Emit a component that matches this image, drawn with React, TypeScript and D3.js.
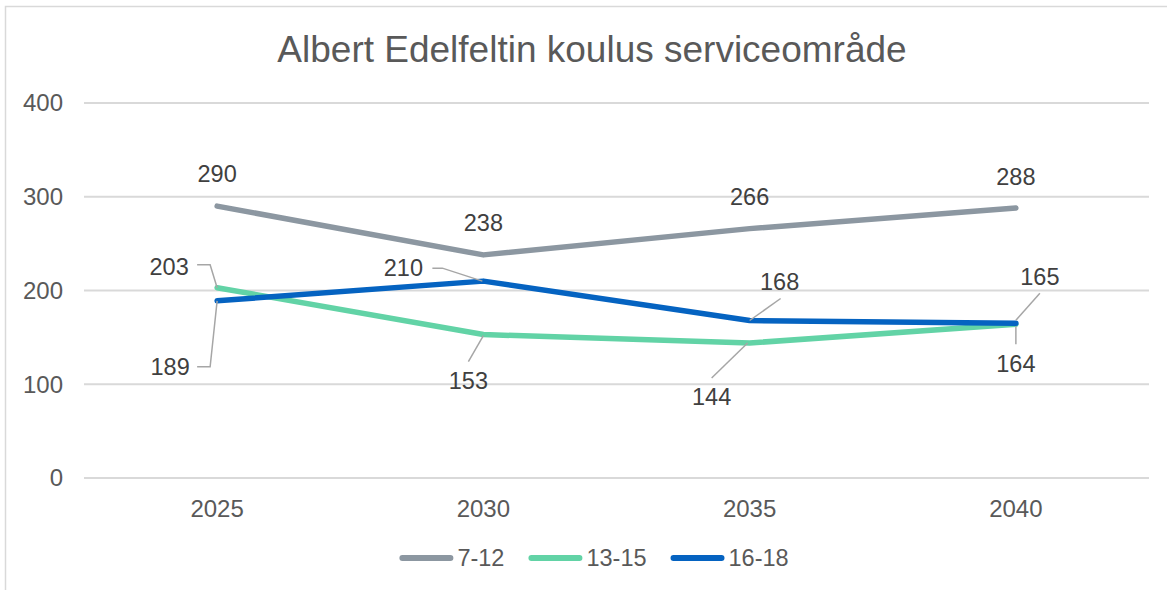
import React from "react";
import * as d3 from "d3";

const years = ["2025", "2030", "2035", "2040"];
const seriesNames = ["7-12", "13-15", "16-18"];
const values712 = [290, 238, 266, 288];
const values1315 = [203, 153, 144, 164];
const values1618 = [189, 210, 168, 165];
const yTicks = [0, 100, 200, 300, 400];

const colors = ["#8C97A1", "#62D3A6", "#0563C1"];

// label placement relative to the point: text centre offset + leader polyline
type Place = { dx: number; dy: number; leader?: [number, number][] };
const labelPlaces: Place[][] = [
  [
    { dx: 0, dy: -32 },
    { dx: 0, dy: -32 },
    { dx: 0, dy: -32 },
    { dx: 0, dy: -31 },
  ],
  [
    { dx: -48, dy: -21, leader: [[-20, -23], [-7, -23], [0, 0]] },
    { dx: -15, dy: 46, leader: [[-15, 27], [0, 1]] },
    { dx: -38, dy: 54, leader: [[-38, 35], [-2, 0]] },
    { dx: 0, dy: 40, leader: [[0, 20], [0, 2]] },
  ],
  [
    { dx: -47, dy: 66, leader: [[-20, 66], [-7, 66], [0, 0]] },
    { dx: -80, dy: -13, leader: [[-51, -13], [-41, -13], [-1, 0]] },
    { dx: 30, dy: -39, leader: [[31, -22], [0, 0]] },
    { dx: 24, dy: -47, leader: [[24, -30], [0, -3]] },
  ],
];

const W = 1167;
const H = 590;
const font = "'Liberation Sans', Arial, sans-serif";

const charW = (s: string) =>
  s.split("").reduce((a, c) => a + (c === "-" ? 0.333 : 0.556), 0);

export default function App() {
  const series = [values712, values1315, values1618];

  const x = d3.scalePoint<string>().domain(years).range([84, 1149]).padding(0.5);
  const y = d3.scaleLinear().domain([0, 400]).range([478, 103]);

  const line = d3
    .line<number>()
    .x((_, i) => x(years[i]) as number)
    .y((d) => y(d));

  // legend layout
  const legFont = 23.5;
  const lineLen = 54;
  const items = seriesNames.map((n) => lineLen + 4 + charW(n) * legFont);
  const gap = 24;
  const legTotal = d3.sum(items) + gap * (items.length - 1);
  let lx = 594 - legTotal / 2;
  const legendPos = items.map((w) => {
    const p = lx;
    lx += w + gap;
    return p;
  });

  return (
    <svg
      width={W}
      height={H}
      style={{ position: "absolute", left: 0, top: 0, background: "#fff" }}
      fontFamily={font}
    >
      <rect x={0} y={0} width={W} height={H} fill="#fff" />
      <rect x={5.5} y={6.5} width={1300} height={700} fill="none" stroke="#D9D9D9" strokeWidth={1.5} />

      <text x={592} y={62} textAnchor="middle" fontSize={37} fill="#595959">
        Albert Edelfeltin koulus serviceområde
      </text>

      {yTicks.map((t) => (
        <g key={t}>
          <line x1={84} x2={1149} y1={y(t)} y2={y(t)} stroke="#D9D9D9" strokeWidth={2} />
          <text x={63} y={y(t)} dy="0.35em" textAnchor="end" fontSize={24} fill="#595959">
            {t}
          </text>
        </g>
      ))}

      {years.map((yr) => (
        <text key={yr} x={x(yr)} y={517} textAnchor="middle" fontSize={24} fill="#595959">
          {yr}
        </text>
      ))}

      {series.map((vals, si) => (
        <path
          key={si}
          d={line(vals) ?? ""}
          fill="none"
          stroke={colors[si]}
          strokeWidth={5.5}
          strokeLinecap="round"
          strokeLinejoin="round"
        />
      ))}

      {series.map((vals, si) =>
        vals.map((v, i) => {
          const px = x(years[i]) as number;
          const py = y(v);
          const pl = labelPlaces[si][i];
          return (
            <g key={`${si}-${i}`}>
              {pl.leader && (
                <polyline
                  points={pl.leader.map(([a, b]) => `${px + a},${py + b}`).join(" ")}
                  fill="none"
                  stroke="#A6A6A6"
                  strokeWidth={1.5}
                />
              )}
              <text
                x={px + pl.dx}
                y={py + pl.dy}
                dy="0.35em"
                textAnchor="middle"
                fontSize={23.5}
                fill="#404040"
              >
                {v}
              </text>
            </g>
          );
        })
      )}

      {seriesNames.map((n, i) => (
        <g key={n} transform={`translate(${legendPos[i]},558)`}>
          <line x1={3} x2={lineLen - 3} y1={0} y2={0} stroke={colors[i]} strokeWidth={6} strokeLinecap="round" />
          <text x={lineLen + 4} y={0} dy="0.35em" fontSize={legFont} fill="#595959">
            {n}
          </text>
        </g>
      ))}
    </svg>
  );
}
